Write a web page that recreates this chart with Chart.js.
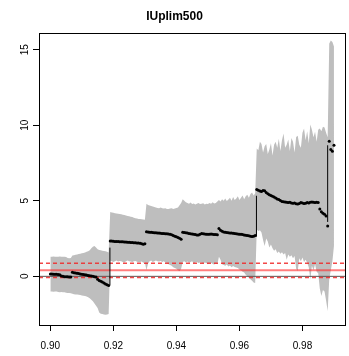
<!DOCTYPE html>
<html>
<head>
<meta charset="utf-8">
<script src="https://cdn.jsdelivr.net/npm/chart.js@4.4.1/dist/chart.umd.min.js"></script>
<style>
  html, body { margin: 0; padding: 0; background: #fff; }
  #wrap { width: 349px; height: 356px; }
</style>
</head>
<body>
<div id="wrap"><canvas id="myChart" width="349" height="356"></canvas></div>
<script>
// grid of thresholds
const xs = [
  0.9000, 0.9005, 0.9010, 0.9015, 0.9020, 0.9025, 0.9030, 0.9035, 0.9040, 0.9045,
  0.9050, 0.9055, 0.9060, 0.9065, 0.9070, 0.9075, 0.9080, 0.9085, 0.9090, 0.9095,
  0.9100, 0.9105, 0.9110, 0.9115, 0.9120, 0.9125, 0.9130, 0.9135, 0.9140, 0.9145,
  0.9150, 0.9155, 0.9160, 0.9165, 0.9170, 0.9175, 0.9180, 0.9185, 0.9190, 0.9195,
  0.9200, 0.9205, 0.9210, 0.9215, 0.9220, 0.9225, 0.9230, 0.9235, 0.9240, 0.9245,
  0.9250, 0.9255, 0.9260, 0.9265, 0.9270, 0.9275, 0.9280, 0.9285, 0.9290, 0.9295,
  0.9300, 0.9305, 0.9310, 0.9315, 0.9320, 0.9325, 0.9330, 0.9335, 0.9340, 0.9345,
  0.9350, 0.9355, 0.9360, 0.9365, 0.9370, 0.9375, 0.9380, 0.9385, 0.9390, 0.9395,
  0.9400, 0.9405, 0.9410, 0.9415, 0.9420, 0.9425, 0.9430, 0.9435, 0.9440, 0.9445,
  0.9450, 0.9455, 0.9460, 0.9465, 0.9470, 0.9475, 0.9480, 0.9485, 0.9490, 0.9495,
  0.9500, 0.9505, 0.9510, 0.9515, 0.9520, 0.9525, 0.9530, 0.9535, 0.9540, 0.9545,
  0.9550, 0.9555, 0.9560, 0.9565, 0.9570, 0.9575, 0.9580, 0.9585, 0.9590, 0.9595,
  0.9600, 0.9605, 0.9610, 0.9615, 0.9620, 0.9625, 0.9630, 0.9635, 0.9640, 0.9645,
  0.9650, 0.9655, 0.9660, 0.9665, 0.9670, 0.9675, 0.9680, 0.9685, 0.9690, 0.9695,
  0.9700, 0.9705, 0.9710, 0.9715, 0.9720, 0.9725, 0.9730, 0.9735, 0.9740, 0.9745,
  0.9750, 0.9755, 0.9760, 0.9765, 0.9770, 0.9775, 0.9780, 0.9785, 0.9790, 0.9795,
  0.9800, 0.9805, 0.9810, 0.9815, 0.9820, 0.9825, 0.9830, 0.9835, 0.9840, 0.9845,
  0.9850, 0.9855, 0.9860, 0.9865, 0.9870, 0.9875, 0.9880, 0.9885, 0.9890, 0.9895,
  0.9900
];

// point estimates (black dots)
const est = [
  0.15, 0.15, 0.14, 0.14, 0.13, 0.12, 0.10, 0.03, 0.00, -0.02, -0.02, -0.03, -0.04, -0.05,
  0.27, 0.24, 0.22, 0.20, 0.18, 0.15, 0.13, 0.12, 0.10, 0.08, 0.06, 0.04, 0.02, 0.00, -0.02, -0.04,
  -0.20, -0.27, -0.33, -0.38, -0.44, -0.50, -0.55, -0.60,
  2.33, 2.33, 2.32, 2.31, 2.31, 2.30, 2.29, 2.29, 2.28, 2.27, 2.27, 2.26, 2.25, 2.24, 2.24, 2.23,
  2.22, 2.21, 2.20, 2.19, 2.15, 2.12, 2.16,
  2.95, 2.93, 2.92, 2.91, 2.90, 2.89, 2.88, 2.87, 2.86, 2.85, 2.84, 2.83, 2.82, 2.81, 2.80, 2.78,
  2.75, 2.70, 2.66, 2.62, 2.57, 2.52, 2.46,
  2.92, 2.90, 2.88, 2.86, 2.84, 2.82, 2.80, 2.78, 2.76, 2.74, 2.73, 2.78, 2.83, 2.81, 2.80, 2.79,
  2.78, 2.79, 2.80, 2.79, 2.77, 2.76, 2.75,
  3.16, 3.05, 2.98, 2.94, 2.92, 2.90, 2.88, 2.87, 2.86, 2.85, 2.84, 2.82, 2.80, 2.79, 2.78, 2.76,
  2.74, 2.72, 2.70, 2.68, 2.65, 2.63, 2.66, 2.70,
  5.75, 5.70, 5.65, 5.62, 5.68, 5.66, 5.55, 5.46, 5.40, 5.35, 5.30, 5.25, 5.18, 5.12, 5.08, 5.02,
  4.95, 4.93, 4.92, 4.90, 4.89, 4.90, 4.86, 4.84, 4.85, 4.80, 4.78, 4.82, 4.88, 4.86, 4.82, 4.84,
  4.88, 4.86, 4.90, 4.92, 4.90, 4.88, 4.90, 4.89,
  4.45, 4.27, 4.18, 4.11, 4.00, 3.33, 8.93, 8.40, 8.27, 8.67
];

// interval bounds (grey band)
const upper = [
  1.30, 1.30, 1.31, 1.30, 1.29, 1.30, 1.31, 1.30, 1.29, 1.30, 1.28, 1.22, 1.20, 1.22,
  1.38, 1.40, 1.42, 1.45, 1.48, 1.50, 1.52, 1.55, 1.58, 1.62, 1.66, 1.72, 1.85, 1.95, 2.00, 1.90,
  1.80, 1.75, 1.72, 1.70, 1.68, 1.66, 1.62, 1.58,
  4.25, 4.22, 4.20, 4.18, 4.15, 4.14, 4.12, 4.10, 4.08, 4.05, 4.02, 4.00, 3.98, 3.95, 3.92, 3.88,
  3.85, 3.83, 3.80, 3.80, 3.78, 3.76, 3.75,
  4.80, 4.72, 4.68, 4.66, 4.62, 4.58, 4.55, 4.52, 4.50, 4.55, 4.50, 4.48, 4.50, 4.46, 4.45, 4.48,
  4.50, 4.45, 4.48, 4.52, 4.55, 4.70, 4.85,
  5.10, 5.00, 4.90, 4.85, 4.80, 4.88, 4.78, 4.82, 4.76, 4.80, 4.85, 4.78, 4.80, 4.84, 4.76, 4.80,
  4.78, 4.85, 4.80, 4.90, 4.82, 4.86, 4.95,
  5.05, 4.95, 5.10, 5.00, 5.15, 4.98, 5.08, 5.20, 5.00, 5.25, 5.05, 5.15, 5.30, 5.05, 5.20, 5.35,
  5.10, 5.30, 5.40, 5.20, 5.45, 5.55, 5.35, 5.50,
  8.45, 8.35, 8.90, 8.75, 8.20, 8.60, 8.75, 8.10, 8.40, 8.80, 8.00, 8.70, 8.90, 8.50, 9.10, 8.30,
  9.00, 9.45, 8.50, 8.70, 9.05, 8.30, 9.15, 8.90, 8.20, 9.22, 9.30, 8.70, 8.50, 9.50, 9.78, 9.00,
  9.60, 8.80, 10.05, 9.70, 9.20, 9.56, 8.90, 9.70,
  9.78, 9.60, 9.90, 9.85, 9.50, 9.20, 15.40, 15.60, 15.50, 15.20
];
const lower = [
  -1.00, -1.00, -1.02, -1.00, -1.01, -1.03, -1.05, -1.04, -1.05, -1.06, -1.08, -1.10, -1.10, -1.12,
  -1.15, -1.18, -1.20, -1.20, -1.22, -1.24, -1.26, -1.28, -1.30, -1.34, -1.38, -1.45, -1.55, -1.65, -1.80, -1.95,
  -2.10, -2.40, -2.48, -2.50, -2.52, -2.55, -2.53, -2.50,
  1.05, 1.00, 0.95, 1.00, 1.05, 0.98, 1.02, 1.00, 0.95, 0.92, 1.00, 1.05, 1.00, 0.98, 0.95, 1.00,
  1.02, 0.97, 0.93, 0.95, 0.98, 0.90, 0.92,
  0.40, 0.85, 1.00, 1.05, 0.95, 1.00, 1.05, 1.00, 0.98, 1.02, 0.95, 1.00, 0.92, 0.88, 0.80, 0.75,
  0.70, 0.60, 0.55, 0.50, 0.40, 0.33, 0.50,
  0.95, 1.00, 0.92, 0.98, 0.90, 0.95, 1.00, 0.85, 0.92, 0.95, 0.88, 0.92, 0.90, 0.85, 0.92, 0.88,
  0.80, 0.85, 0.90, 0.82, 0.78, 0.85, 0.80,
  1.30, 1.10, 0.80, 0.75, 0.70, 0.78, 0.65, 0.72, 0.60, 0.68, 0.62, 0.58, 0.55, 0.45, 0.40, 0.30,
  0.25, 0.10, 0.00, -0.10, -0.20, -0.30, -0.40, -0.44,
  3.10, 3.00, 3.05, 2.90, 2.40, 2.00, 2.50, 2.30, 1.90, 2.10, 1.85, 1.70, 1.80, 1.55, 1.65, 1.50,
  1.60, 1.45, 1.55, 1.10, 1.45, 1.30, 1.40, 1.20, 1.35, 0.50, 0.35, 1.20, 1.00, 1.25, 0.95, 1.10,
  0.90, 0.60, -0.20, 0.70, 0.40, 0.80, 0.30, 0.20,
  -0.80, -1.30, -0.90, -1.00, -1.60, -2.30, -0.20, 0.40, 1.00, 2.00
];

// vertical connectors at the jumps: [x, from, to]
const jumps = [
  [0.9189, -0.60, 1.90],
  [0.9654, 2.63, 5.33],
  [0.9880, 3.60, 8.67]
];

// reference lines
const refMean = 0.40;
const refBand = [0.87, -0.07];

const xTicks = [0.90, 0.92, 0.94, 0.96, 0.98];
const yTicks = [0, 5, 10, 15];
const xRange = [0.8964, 0.9935];
const yRange = [-3.22, 16.1];

document.addEventListener('DOMContentLoaded', function () {
    const ctx = document.getElementById('myChart').getContext('2d');
    const font = { family: "'Liberation Sans', Arial, Helvetica, sans-serif", size: 10 };

    const hline = (y) => [{ x: xRange[0], y: y }, { x: xRange[1], y: y }];

    const datasets = [
        {   // upper edge of band, filled down to lower edge
            data: xs.map((x, i) => ({ x: x, y: upper[i] })),
            borderWidth: 0, pointRadius: 0, borderColor: '#bebebe',
            backgroundColor: '#bebebe', fill: '+1', order: 10
        },
        {
            data: xs.map((x, i) => ({ x: x, y: lower[i] })),
            borderWidth: 0, pointRadius: 0, borderColor: '#bebebe',
            fill: false, order: 10
        },
        {
            data: hline(0), borderColor: '#555', borderWidth: 1,
            pointRadius: 0, order: 6
        },
        {
            data: hline(refMean), borderColor: 'rgba(255,40,40,0.6)', borderWidth: 2,
            pointRadius: 0, order: 5
        }
    ];
    refBand.forEach(function (v) {
        datasets.push({
            data: hline(v), borderColor: 'rgba(240,40,40,0.85)', borderWidth: 1.5,
            borderDash: [4, 3], pointRadius: 0, order: 5
        });
    });
    jumps.forEach(function (j) {
        datasets.push({
            data: [{ x: j[0], y: j[1] }, { x: j[0], y: j[2] }],
            borderColor: '#000', borderWidth: 1, pointRadius: 0, order: 2
        });
    });
    datasets.push({
        data: xs.map((x, i) => ({ x: x, y: est[i] })),
        showLine: false, pointRadius: 1.5, pointBorderWidth: 0,
        pointBackgroundColor: '#000', pointBorderColor: '#000', order: 1
    });

    // box around the plot region, like R's box()
    const frame = {
        id: 'frame',
        afterDatasetsDraw(chart) {
            const a = chart.chartArea;
            const c = chart.ctx;
            c.save();
            c.strokeStyle = '#000';
            c.lineWidth = 1;
            c.strokeRect(Math.round(a.left) + 0.5, Math.round(a.top) + 0.5,
                Math.round(a.right - a.left), Math.round(a.bottom - a.top));
            c.restore();
        }
    };

    new Chart(ctx, {
        type: 'line',
        data: { datasets: datasets },
        plugins: [frame],
        options: {
            responsive: false,
            animation: false,
            layout: { padding: 0 },
            plugins: {
                legend: { display: false },
                tooltip: { enabled: false },
                title: {
                    display: true,
                    text: 'IUplim500',
                    color: '#000',
                    font: { family: font.family, size: 12, weight: 'bold' },
                    padding: { top: 9, bottom: 9.6 }
                }
            },
            scales: {
                x: {
                    type: 'linear',
                    min: xRange[0], max: xRange[1],
                    afterBuildTicks: s => { s.ticks = xTicks.map(v => ({ value: v })); },
                    afterFit: s => { s.height = 31; },
                    border: { display: false },
                    grid: { drawOnChartArea: false, drawTicks: true, tickLength: 6, tickColor: '#000' },
                    ticks: {
                        color: '#000', font: font, padding: 9, maxRotation: 0,
                        callback: v => v.toFixed(2)
                    }
                },
                y: {
                    type: 'linear',
                    min: yRange[0], max: yRange[1],
                    afterBuildTicks: s => { s.ticks = yTicks.map(v => ({ value: v })); },
                    afterFit: s => { s.width = 39; },
                    border: { display: false },
                    grid: { drawOnChartArea: false, drawTicks: true, tickLength: 6, tickColor: '#000' },
                    ticks: {
                        color: '#000', font: font, padding: 2,
                        minRotation: 90, maxRotation: 90, crossAlign: 'center',
                        callback: v => String(v)
                    }
                }
            }
        }
    });
});
</script>
</body>
</html>
